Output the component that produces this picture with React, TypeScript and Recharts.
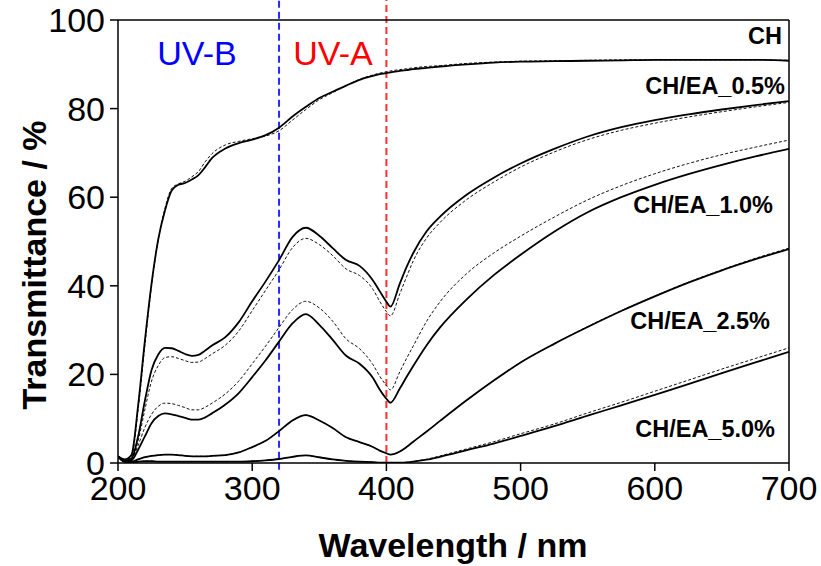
import React from 'react';
import { LineChart, Line, XAxis, YAxis, ReferenceLine } from 'recharts';

// Wavelength (nm)
const wavelengths = [200,205,210,215,220,225,230,235,240,245,250,255,260,265,270,280,290,300,310,320,330,340,350,360,370,380,390,395,400,403,410,415,420,430,440,460,480,500,525,550,575,600,625,650,675,700];

// Transmittance (%) — solid and dotted curves per sample
const chSolid = [1.5,0.8,1.8,13,27.5,40.5,50.5,57,61.5,62.8,63.2,64,65,66.8,68.8,71.0,72.2,73.0,74.0,75.7,78.2,80.4,82.4,83.8,85.2,86.5,87.4,87.8,88.0,88.2,88.5,88.7,88.9,89.2,89.5,90.0,90.4,90.6,90.7,90.8,90.9,91.0,91.0,91.0,91.0,90.8];
const chDotted = [1.5,0.8,1.4,12,26.5,40,50.5,57.5,62,63,63.6,64.6,65.8,68,69.8,71.8,72.6,73.2,73.8,75.0,77.4,79.8,82.0,83.6,85.2,86.6,87.6,88.0,88.3,88.5,88.8,89.0,89.2,89.5,89.7,90.2,90.5,90.7,90.8,90.9,91.0,91.0,91.0,91.0,91.0,90.9];
const ea05Solid = [1.5,0.5,1.0,6,14,21,24.5,26,25.9,25.3,24.6,24.2,24.4,25.4,26.5,28.4,31.8,36.5,41,45.8,51,53.1,51.3,48.5,45.8,44.5,41.2,38.8,36.4,35.3,40.5,44.2,47.4,52.3,55.6,60.6,64.4,67.6,70.9,73.7,75.8,77.4,78.7,79.8,80.8,81.7];
const ea05Dotted = [1.5,0.5,0.8,5,12,18.5,22,23.8,24,23.6,23.1,22.7,22.8,23.6,24.6,26.6,29.8,34.4,39,43.6,48.6,50.7,49.3,46.8,43.8,42.3,39.2,36.5,34.2,33.2,38.2,42,45.6,50.8,54.3,59.5,63.4,66.8,70.2,73.0,75.1,76.7,78.1,79.3,80.4,81.4];
const ea10Solid = [1.5,0.4,0.6,3,6,9,10.6,11.2,11.0,10.6,10.2,9.8,9.8,10.3,11.2,13.2,15.8,19.4,23.2,27.4,31.5,33.6,31.2,27.8,24.2,22.4,19.2,16.6,14.5,13.6,16.8,19.4,21.9,26.6,30.6,37.0,42.4,47.0,52.2,56.6,60.0,62.8,65.2,67.3,69.2,70.9];
const ea10Dotted = [1.5,0.5,0.8,4,8,11,12.8,13.5,13.4,13.0,12.5,12.0,12.0,12.6,13.5,15.6,18.5,22.4,26.4,30.6,34.6,36.5,35.0,32.0,28.0,25.8,22.2,19.6,17.5,16.5,20.6,23.6,26.4,32.0,36.4,42.8,47.4,51.2,55.5,59.4,62.6,65.3,67.6,69.6,71.3,72.9];
const ea25Solid = [1.5,0.3,0.3,0.8,1.3,1.6,1.8,1.9,1.9,1.8,1.6,1.5,1.5,1.5,1.6,1.8,2.4,3.6,5.0,7.2,9.6,10.8,9.6,7.9,5.8,4.7,3.6,2.8,2.2,1.9,2.6,3.6,4.8,7.1,9.5,14.2,18.6,22.7,26.9,30.7,34.3,37.6,40.7,43.5,46.0,48.3];
const ea25Dotted = [1.5,0.3,0.3,0.8,1.3,1.6,1.8,1.9,1.9,1.8,1.6,1.5,1.5,1.5,1.6,1.8,2.4,3.6,5.0,7.2,9.6,10.8,9.6,7.9,5.8,4.7,3.6,2.8,2.2,1.9,2.6,3.6,4.8,7.1,9.5,14.2,18.6,22.7,26.9,30.8,34.4,37.7,40.8,43.6,46.2,48.5];
const ea50Solid = [1.5,0.3,0.1,0.3,0.4,0.4,0.3,0.3,0.3,0.3,0.3,0.3,0.3,0.3,0.3,0.3,0.3,0.4,0.6,0.9,1.4,1.7,1.3,0.8,0.5,0.3,0.2,0.1,0.1,0.1,0.1,0.15,0.3,0.75,1.4,2.9,4.4,6.1,8.3,10.7,13.0,15.4,17.8,20.3,22.7,25.1];
const ea50Dotted = [1.5,0.3,0.1,0.3,0.4,0.4,0.3,0.3,0.3,0.3,0.3,0.3,0.3,0.3,0.3,0.3,0.3,0.4,0.6,0.9,1.4,1.7,1.3,0.8,0.5,0.3,0.2,0.1,0.1,0.1,0.1,0.15,0.35,0.85,1.6,3.2,4.8,6.6,8.8,11.3,13.7,16.2,18.7,21.2,23.6,26.0];

const xMajorTicks = [200, 300, 400, 500, 600, 700];
const xMinorTicks = [250, 350, 450, 550, 650];
const xAllTicks = [200, 250, 300, 350, 400, 450, 500, 550, 600, 650, 700];
const yMajorTicks = [0, 20, 40, 60, 80, 100];
const yMinorTicks = [10, 30, 50, 70, 90];
const yAllTicks = [0, 10, 20, 30, 40, 50, 60, 70, 80, 90, 100];

const seriesLabels = ['CH', 'CH/EA_0.5%', 'CH/EA_1.0%', 'CH/EA_2.5%', 'CH/EA_5.0%'];

const data = wavelengths.map((w, i) => ({
  w,
  ch: chSolid[i],
  chD: chDotted[i],
  e05: ea05Solid[i],
  e05D: ea05Dotted[i],
  e10: ea10Solid[i],
  e10D: ea10Dotted[i],
  e25: ea25Solid[i],
  e25D: ea25Dotted[i],
  e50: ea50Solid[i],
  e50D: ea50Dotted[i],
}));

const FONT = '"Liberation Sans", Arial, Helvetica, sans-serif';
const W_ = 821;
const H_ = 566;

const solidKeys = ['ch', 'e05', 'e10', 'e25', 'e50'];
const dottedKeys = ['chD', 'e05D', 'e10D', 'e25D', 'e50D'];

const labelPos = [
  { x: 782, y: 44 },
  { x: 785, y: 94 },
  { x: 773, y: 213 },
  { x: 770, y: 329 },
  { x: 775, y: 437 },
];

export default function App() {
  return (
    <div style={{ position: 'absolute', left: 0, top: 0, width: W_, height: H_, background: '#fff' }}>
      <LineChart
        width={W_}
        height={H_}
        data={data}
        margin={{ top: 20, right: 32, bottom: 101, left: 116 }}
      >
        <XAxis
          xAxisId="main"
          dataKey="w"
          type="number"
          domain={[200, 700]}
          ticks={xMajorTicks}
          allowDataOverflow
          height={1}
          tickSize={8}
          tickMargin={5}
          stroke="#000"
          strokeWidth={1.5}
          tick={{ fontSize: 34, fill: '#000', fontFamily: FONT }}
          tickLine={{ stroke: '#000', strokeWidth: 1.5 }}
        />
        <XAxis
          xAxisId="minor"
          dataKey="w"
          type="number"
          domain={[200, 700]}
          ticks={xMinorTicks}
          allowDataOverflow
          height={1}
          tickSize={5}
          tick={false}
          axisLine={false}
          tickLine={{ stroke: '#000', strokeWidth: 1.5 }}
        />
        <XAxis
          xAxisId="top"
          orientation="top"
          dataKey="w"
          type="number"
          domain={[200, 700]}
          ticks={xAllTicks}
          allowDataOverflow
          height={1}
          mirror
          tickSize={3}
          tick={false}
          stroke="#000"
          strokeWidth={1.5}
          tickLine={{ stroke: '#000', strokeWidth: 1 }}
        />
        <YAxis
          yAxisId="main"
          type="number"
          domain={[0, 100]}
          ticks={yMajorTicks}
          allowDataOverflow
          width={1}
          tickSize={8}
          tickMargin={5}
          stroke="#000"
          strokeWidth={1.5}
          tick={{ fontSize: 34, fill: '#000', fontFamily: FONT }}
          tickLine={{ stroke: '#000', strokeWidth: 1.5 }}
        />
        <YAxis
          yAxisId="minor"
          type="number"
          domain={[0, 100]}
          ticks={yMinorTicks}
          allowDataOverflow
          width={1}
          tickSize={4}
          tick={false}
          axisLine={false}
          tickLine={{ stroke: '#000', strokeWidth: 1.5 }}
        />
        <YAxis
          yAxisId="right"
          orientation="right"
          type="number"
          domain={[0, 100]}
          ticks={yAllTicks}
          allowDataOverflow
          width={1}
          mirror
          tickSize={3}
          tick={false}
          stroke="#000"
          strokeWidth={1.5}
          tickLine={{ stroke: '#000', strokeWidth: 1 }}
        />
        <ReferenceLine
          xAxisId="main"
          yAxisId="main"
          segment={[{ x: 320, y: -1.5 }, { x: 320, y: 104.8 }]}
          stroke="#2a2aff"
          strokeWidth={2}
          strokeDasharray="7 4"
          ifOverflow="visible"
        />
        <ReferenceLine
          xAxisId="main"
          yAxisId="main"
          segment={[{ x: 400, y: 0 }, { x: 400, y: 104.8 }]}
          stroke="#ff3030"
          strokeWidth={2}
          strokeDasharray="7 4"
          ifOverflow="visible"
        />
        {dottedKeys.map((k) => (
          <Line
            key={k}
            xAxisId="main"
            yAxisId="main"
            dataKey={k}
            type="monotone"
            stroke="#111"
            strokeWidth={1}
            strokeDasharray="3 2"
            dot={false}
            activeDot={false}
            isAnimationActive={false}
          />
        ))}
        {solidKeys.map((k) => (
          <Line
            key={k}
            xAxisId="main"
            yAxisId="main"
            dataKey={k}
            type="monotone"
            stroke="#000"
            strokeWidth={1.8}
            dot={false}
            activeDot={false}
            isAnimationActive={false}
          />
        ))}
      </LineChart>
      <svg
        width={W_}
        height={H_}
        style={{ position: 'absolute', left: 0, top: 0, pointerEvents: 'none' }}
      >
        <text x={197} y={65} textAnchor="middle" fontSize={34} fill="#0000ff" fontFamily={FONT}>UV-B</text>
        <text x={333} y={65} textAnchor="middle" fontSize={34} fill="#ff0000" fontFamily={FONT}>UV-A</text>
        {seriesLabels.map((s, i) => (
          <text key={s} x={labelPos[i].x} y={labelPos[i].y} textAnchor="end" fontSize={23.5} fontWeight="bold" fill="#000" fontFamily={FONT}>{s}</text>
        ))}
        <text x={453} y={557} textAnchor="middle" fontSize={34} fontWeight="bold" fill="#000" fontFamily={FONT}>Wavelength / nm</text>
        <text x={46} y={265} textAnchor="middle" fontSize={34} fontWeight="bold" fill="#000" fontFamily={FONT} transform="rotate(-90 46 265)">Transmittance / %</text>
      </svg>
    </div>
  );
}
